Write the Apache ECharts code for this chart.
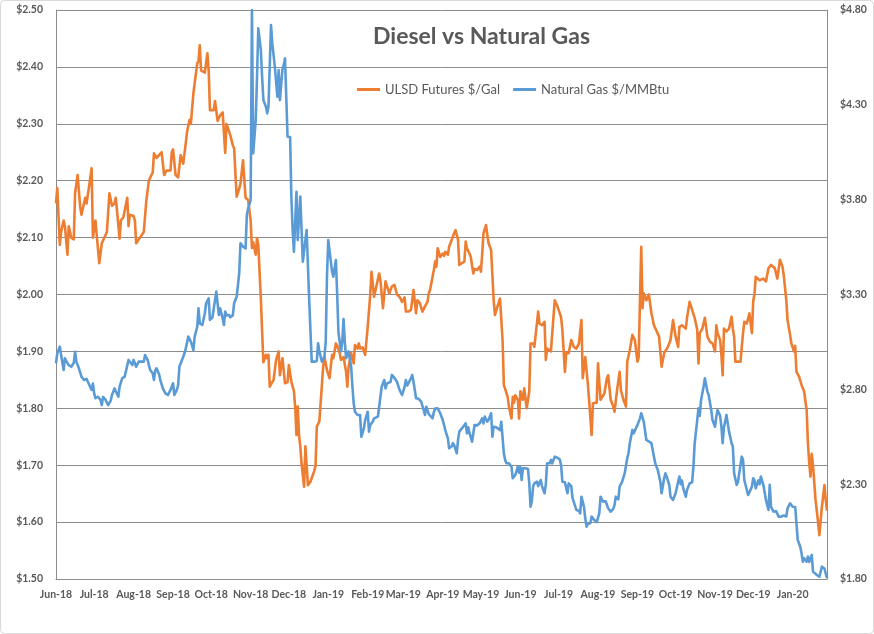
<!DOCTYPE html>
<html><head><meta charset="utf-8">
<script src="https://cdn.jsdelivr.net/npm/echarts@6/dist/echarts.min.js"></script>
<style>html,body{margin:0;padding:0;background:#fff}#c{width:874px;height:634px}</style>
</head><body><div id="c"></div>
<script>
const ulsdDates = [
'2018-06-01','2018-06-02','2018-06-04','2018-06-05','2018-06-07','2018-06-08','2018-06-10','2018-06-11','2018-06-13','2018-06-15','2018-06-16','2018-06-18','2018-06-20','2018-06-21','2018-06-24','2018-06-25','2018-06-27','2018-06-29','2018-06-30',
'2018-07-02','2018-07-05','2018-07-07','2018-07-09','2018-07-11','2018-07-13','2018-07-15','2018-07-17','2018-07-18','2018-07-21','2018-07-22','2018-07-24','2018-07-27','2018-07-28','2018-07-29',
'2018-08-01','2018-08-02','2018-08-03','2018-08-06','2018-08-09','2018-08-11','2018-08-13','2018-08-15','2018-08-16','2018-08-17','2018-08-19','2018-08-21','2018-08-23','2018-08-25','2018-08-27','2018-08-30','2018-08-31',
'2018-09-01','2018-09-03','2018-09-05','2018-09-07','2018-09-09','2018-09-11','2018-09-12','2018-09-14','2018-09-15','2018-09-17','2018-09-20','2018-09-21','2018-09-22','2018-09-23','2018-09-26','2018-09-28','2018-09-29','2018-09-30',
'2018-10-03','2018-10-04','2018-10-06','2018-10-08','2018-10-10','2018-10-12','2018-10-13','2018-10-16','2018-10-18','2018-10-19','2018-10-21','2018-10-23','2018-10-24','2018-10-26','2018-10-28','2018-10-30',
'2018-11-01','2018-11-02','2018-11-03','2018-11-05','2018-11-06','2018-11-07','2018-11-09','2018-11-10','2018-11-11','2018-11-13','2018-11-14','2018-11-15','2018-11-16','2018-11-19','2018-11-21','2018-11-23','2018-11-24','2018-11-26','2018-11-28','2018-11-30',
'2018-12-01','2018-12-03','2018-12-05','2018-12-06','2018-12-07','2018-12-08','2018-12-09','2018-12-10','2018-12-11','2018-12-13','2018-12-14','2018-12-15','2018-12-16','2018-12-18','2018-12-21','2018-12-22','2018-12-23','2018-12-25','2018-12-26','2018-12-28','2018-12-29','2018-12-31',
'2019-01-02','2019-01-04','2019-01-05','2019-01-07','2019-01-08','2019-01-10','2019-01-11','2019-01-13','2019-01-15','2019-01-16','2019-01-17','2019-01-19','2019-01-21','2019-01-22','2019-01-24','2019-01-25','2019-01-26','2019-01-28','2019-01-29','2019-01-30',
'2019-02-01','2019-02-03','2019-02-04','2019-02-06','2019-02-10','2019-02-11','2019-02-13','2019-02-15','2019-02-16','2019-02-18','2019-02-20','2019-02-22','2019-02-24','2019-02-26','2019-02-28',
'2019-03-02','2019-03-03','2019-03-05','2019-03-07','2019-03-09','2019-03-11','2019-03-12','2019-03-14','2019-03-16','2019-03-18','2019-03-20','2019-03-21','2019-03-22','2019-03-25','2019-03-26','2019-03-27','2019-03-28','2019-03-30',
'2019-04-01','2019-04-02','2019-04-03','2019-04-05','2019-04-06','2019-04-09','2019-04-10','2019-04-11','2019-04-13','2019-04-14','2019-04-16','2019-04-18','2019-04-19','2019-04-20','2019-04-22','2019-04-23','2019-04-25','2019-04-26','2019-04-28','2019-04-30',
'2019-05-01','2019-05-02','2019-05-03','2019-05-05','2019-05-06','2019-05-07','2019-05-09','2019-05-11','2019-05-12','2019-05-14','2019-05-16','2019-05-18','2019-05-19','2019-05-22','2019-05-23','2019-05-25','2019-05-26','2019-05-27','2019-05-28','2019-05-30','2019-05-31',
'2019-06-01','2019-06-03','2019-06-04','2019-06-06','2019-06-08','2019-06-09','2019-06-11','2019-06-12','2019-06-15','2019-06-16','2019-06-18','2019-06-20','2019-06-21','2019-06-22','2019-06-25','2019-06-26','2019-06-28','2019-06-30',
'2019-07-03','2019-07-04','2019-07-06','2019-07-07','2019-07-09','2019-07-11','2019-07-13','2019-07-15','2019-07-17','2019-07-19','2019-07-20','2019-07-22','2019-07-24','2019-07-25','2019-07-27','2019-07-28','2019-07-31',
'2019-08-01','2019-08-03','2019-08-06','2019-08-08','2019-08-09','2019-08-11','2019-08-13','2019-08-14','2019-08-16','2019-08-18','2019-08-19','2019-08-21','2019-08-23','2019-08-24','2019-08-26','2019-08-28','2019-08-30',
'2019-09-01','2019-09-02','2019-09-03','2019-09-04','2019-09-05','2019-09-06','2019-09-08','2019-09-10','2019-09-12','2019-09-14','2019-09-18','2019-09-19','2019-09-20','2019-09-22','2019-09-23','2019-09-25','2019-09-27','2019-09-29',
'2019-10-01','2019-10-03','2019-10-04','2019-10-06','2019-10-09','2019-10-10','2019-10-12','2019-10-14','2019-10-16','2019-10-18','2019-10-19','2019-10-20','2019-10-22','2019-10-24','2019-10-26','2019-10-28','2019-10-30',
'2019-11-01','2019-11-02','2019-11-03','2019-11-05','2019-11-06','2019-11-07','2019-11-08','2019-11-10','2019-11-12','2019-11-14','2019-11-15','2019-11-16','2019-11-17','2019-11-19','2019-11-21','2019-11-23','2019-11-24','2019-11-26','2019-11-28','2019-11-30',
'2019-12-01','2019-12-02','2019-12-03','2019-12-06','2019-12-09','2019-12-11','2019-12-13','2019-12-15','2019-12-18','2019-12-20','2019-12-21','2019-12-22','2019-12-24','2019-12-25','2019-12-26','2019-12-27','2019-12-28','2019-12-30','2019-12-31',
'2020-01-02','2020-01-03','2020-01-04','2020-01-06','2020-01-08','2020-01-10','2020-01-12','2020-01-13','2020-01-14','2020-01-15','2020-01-16','2020-01-17','2020-01-19','2020-01-21','2020-01-22','2020-01-23','2020-01-24','2020-01-26','2020-01-27','2020-01-28'
];
const ulsdPrices = [
2.16,2.187,2.087,2.11,2.13,2.12,2.07,2.12,2.10,2.097,2.178,2.21,2.154,2.14,2.17,2.16,2.19,2.222,2.10,
2.13,2.055,2.09,2.10,2.11,2.178,2.156,2.16,2.17,2.098,2.13,2.136,2.17,2.12,2.14,
2.138,2.13,2.09,2.10,2.11,2.165,2.20,2.21,2.214,2.248,2.24,2.245,2.25,2.21,2.218,2.218,2.25,
2.255,2.21,2.206,2.245,2.23,2.266,2.286,2.307,2.30,2.354,2.406,2.41,2.438,2.394,2.39,2.424,2.394,2.324,
2.324,2.34,2.305,2.315,2.32,2.249,2.30,2.28,2.262,2.257,2.172,2.186,2.195,2.236,2.17,2.166,
2.13,2.082,2.092,2.07,2.099,2.087,1.994,1.936,1.881,1.894,1.888,1.894,1.838,1.85,1.885,1.90,1.858,1.888,1.844,1.846,
1.876,1.847,1.83,1.803,1.753,1.803,1.753,1.733,1.703,1.662,1.733,1.70,1.665,1.671,1.69,1.70,1.768,1.777,1.78,1.873,1.89,1.867,
1.853,1.894,1.888,1.914,1.91,1.897,1.885,1.89,1.864,1.838,1.873,1.897,1.879,1.911,1.905,1.914,1.905,1.907,1.90,1.894,
1.943,2.00,2.04,1.996,2.037,2.025,1.976,2.023,2.025,2.002,2.014,2.017,2.00,1.996,1.987,
1.995,1.97,1.97,1.973,2.008,1.967,1.99,1.985,1.97,1.979,1.987,2.002,2.008,2.043,2.058,2.049,2.081,2.066,
2.072,2.068,2.075,2.07,2.084,2.102,2.108,2.113,2.096,2.052,2.055,2.058,2.093,2.081,2.072,2.066,2.037,2.045,2.043,2.049,
2.04,2.072,2.108,2.122,2.105,2.09,2.078,1.99,1.964,1.979,1.993,1.92,1.841,1.82,1.803,1.782,1.82,1.81,1.823,1.815,1.782,
1.83,1.815,1.835,1.80,1.83,1.914,1.914,1.908,1.97,1.949,1.946,1.952,1.885,1.905,1.90,1.897,1.99,1.98,
1.96,1.938,1.864,1.897,1.897,1.92,1.908,1.905,1.914,1.955,1.853,1.89,1.844,1.815,1.753,1.809,1.81,
1.879,1.815,1.826,1.853,1.858,1.815,1.803,1.794,1.832,1.864,1.832,1.815,1.803,1.882,1.902,1.929,1.92,
1.882,1.89,1.99,2.084,1.976,2.002,1.99,2.00,1.967,1.946,1.926,1.90,1.873,1.897,1.90,1.908,1.92,1.955,
1.926,1.908,1.943,1.946,1.94,1.959,1.987,1.973,1.959,1.938,1.879,1.932,1.94,1.959,1.926,1.917,1.914,
1.90,1.946,1.932,1.92,1.894,1.858,1.94,1.935,1.94,1.961,1.94,1.926,1.882,1.882,1.882,1.932,1.952,1.949,1.967,1.932,
1.988,2.001,2.031,2.025,2.028,2.023,2.046,2.052,2.046,2.028,2.025,2.061,2.049,2.034,2.031,1.99,1.955,1.929,1.914,
1.90,1.91,1.864,1.856,1.841,1.83,1.797,1.739,1.705,1.68,1.72,1.70,1.639,1.60,1.577,1.58,1.627,1.665,1.639,1.62
];
const gasDates = [
'2018-06-01','2018-06-02','2018-06-04','2018-06-05','2018-06-07','2018-06-08','2018-06-09','2018-06-11','2018-06-13','2018-06-15','2018-06-16','2018-06-17','2018-06-19','2018-06-21','2018-06-23','2018-06-25','2018-06-26','2018-06-29','2018-06-30',
'2018-07-01','2018-07-02','2018-07-04','2018-07-06','2018-07-07','2018-07-08','2018-07-10','2018-07-12','2018-07-14','2018-07-15','2018-07-17','2018-07-18','2018-07-20','2018-07-21','2018-07-23','2018-07-25','2018-07-26','2018-07-28','2018-07-29','2018-07-31',
'2018-08-01','2018-08-02','2018-08-03','2018-08-05','2018-08-07','2018-08-09','2018-08-10','2018-08-12','2018-08-14','2018-08-16','2018-08-17','2018-08-18','2018-08-19','2018-08-21','2018-08-22','2018-08-24','2018-08-26','2018-08-28','2018-08-30',
'2018-09-01','2018-09-02','2018-09-04','2018-09-05','2018-09-06','2018-09-07','2018-09-09','2018-09-10','2018-09-11','2018-09-13','2018-09-15','2018-09-16','2018-09-17','2018-09-18','2018-09-20','2018-09-21','2018-09-22','2018-09-24','2018-09-26','2018-09-27','2018-09-29','2018-09-30',
'2018-10-02','2018-10-03','2018-10-05','2018-10-07','2018-10-08','2018-10-10','2018-10-11','2018-10-12','2018-10-13','2018-10-15','2018-10-16','2018-10-18','2018-10-19','2018-10-21','2018-10-23','2018-10-24','2018-10-26','2018-10-28','2018-10-29','2018-10-30',
'2018-11-01','2018-11-02','2018-11-03','2018-11-05','2018-11-06','2018-11-07','2018-11-09','2018-11-10','2018-11-11','2018-11-13','2018-11-14','2018-11-15','2018-11-17','2018-11-18','2018-11-19','2018-11-20','2018-11-22','2018-11-23','2018-11-24','2018-11-26','2018-11-27','2018-11-28','2018-11-29','2018-11-30',
'2018-12-02','2018-12-03','2018-12-04','2018-12-05','2018-12-07','2018-12-08','2018-12-10','2018-12-12','2018-12-14','2018-12-15','2018-12-17','2018-12-19','2018-12-21','2018-12-23','2018-12-24','2018-12-25','2018-12-27','2018-12-29','2018-12-30','2018-12-31',
'2019-01-01','2019-01-02','2019-01-04','2019-01-05','2019-01-07','2019-01-08','2019-01-09','2019-01-11','2019-01-12','2019-01-13','2019-01-14','2019-01-15','2019-01-17','2019-01-19','2019-01-20','2019-01-21','2019-01-22','2019-01-24','2019-01-26','2019-01-27','2019-01-29','2019-01-30',
'2019-02-01','2019-02-02','2019-02-03','2019-02-05','2019-02-06','2019-02-09','2019-02-11','2019-02-12','2019-02-14','2019-02-15','2019-02-16','2019-02-19','2019-02-20','2019-02-22','2019-02-23','2019-02-24','2019-02-26','2019-02-28',
'2019-03-02','2019-03-03','2019-03-04','2019-03-05','2019-03-07','2019-03-08','2019-03-09','2019-03-11','2019-03-13','2019-03-15','2019-03-17','2019-03-18','2019-03-19','2019-03-21','2019-03-22','2019-03-24','2019-03-25','2019-03-26','2019-03-28','2019-03-30',
'2019-04-01','2019-04-02','2019-04-03','2019-04-05','2019-04-06','2019-04-08','2019-04-09','2019-04-10','2019-04-12','2019-04-13','2019-04-14','2019-04-16','2019-04-17','2019-04-19','2019-04-20','2019-04-21','2019-04-22','2019-04-24','2019-04-26','2019-04-28','2019-04-30',
'2019-05-02','2019-05-03','2019-05-04','2019-05-06','2019-05-07','2019-05-09','2019-05-10','2019-05-11','2019-05-13','2019-05-14','2019-05-16','2019-05-17','2019-05-19','2019-05-20','2019-05-21','2019-05-23','2019-05-25','2019-05-26','2019-05-27','2019-05-28','2019-05-30','2019-05-31',
'2019-06-01','2019-06-02','2019-06-03','2019-06-05','2019-06-07','2019-06-08','2019-06-09','2019-06-10','2019-06-11','2019-06-12','2019-06-14','2019-06-15','2019-06-17','2019-06-18','2019-06-20','2019-06-21','2019-06-22','2019-06-24','2019-06-25','2019-06-26','2019-06-28','2019-06-29','2019-06-30',
'2019-07-02','2019-07-03','2019-07-04','2019-07-06','2019-07-08','2019-07-09','2019-07-11','2019-07-12','2019-07-13','2019-07-15','2019-07-17','2019-07-18','2019-07-19','2019-07-21','2019-07-22','2019-07-23','2019-07-24','2019-07-26','2019-07-27','2019-07-29','2019-07-31',
'2019-08-02','2019-08-03','2019-08-05','2019-08-07','2019-08-08','2019-08-09','2019-08-11','2019-08-13','2019-08-14','2019-08-15','2019-08-17','2019-08-18','2019-08-19','2019-08-20','2019-08-22','2019-08-24','2019-08-25','2019-08-26','2019-08-28','2019-08-29','2019-08-30',
'2019-09-01','2019-09-03','2019-09-04','2019-09-06','2019-09-08','2019-09-10','2019-09-12','2019-09-14','2019-09-15','2019-09-17','2019-09-19','2019-09-20','2019-09-22','2019-09-23','2019-09-24','2019-09-26','2019-09-27','2019-09-29',
'2019-10-01','2019-10-03','2019-10-04','2019-10-05','2019-10-06','2019-10-07','2019-10-09','2019-10-10','2019-10-12','2019-10-14','2019-10-15','2019-10-16','2019-10-18','2019-10-19','2019-10-20','2019-10-21','2019-10-23','2019-10-24','2019-10-26','2019-10-27','2019-10-29','2019-10-30',
'2019-11-01','2019-11-02','2019-11-03','2019-11-05','2019-11-06','2019-11-07','2019-11-08','2019-11-10','2019-11-11','2019-11-12','2019-11-14','2019-11-15','2019-11-16','2019-11-18','2019-11-19','2019-11-20','2019-11-22','2019-11-23','2019-11-24','2019-11-26','2019-11-27','2019-11-28','2019-11-30',
'2019-12-01','2019-12-02','2019-12-03','2019-12-05','2019-12-06','2019-12-07','2019-12-09','2019-12-10','2019-12-11','2019-12-13','2019-12-14','2019-12-15','2019-12-17','2019-12-18','2019-12-19','2019-12-21','2019-12-22','2019-12-23','2019-12-25','2019-12-27','2019-12-28','2019-12-30','2019-12-31',
'2020-01-01','2020-01-03','2020-01-04','2020-01-05','2020-01-07','2020-01-08','2020-01-09','2020-01-10','2020-01-12','2020-01-13','2020-01-14','2020-01-16','2020-01-17','2020-01-18','2020-01-20','2020-01-21','2020-01-22','2020-01-24','2020-01-25','2020-01-26','2020-01-27','2020-01-28'
];
const gasPrices = [
2.937,2.99,3.025,2.981,2.902,2.964,2.95,2.928,2.919,2.94,2.998,2.946,2.911,2.867,2.849,2.855,2.84,2.797,2.83,
2.779,2.753,2.761,2.744,2.717,2.76,2.744,2.717,2.74,2.77,2.805,2.79,2.761,2.814,2.858,2.867,2.87,2.955,2.95,2.928,
2.955,2.95,2.919,2.946,2.946,2.946,2.981,2.955,2.902,2.885,2.849,2.90,2.911,2.88,2.849,2.805,2.779,2.77,2.797,
2.832,2.77,2.797,2.823,2.919,2.91,2.972,2.99,3.016,3.078,3.051,3.03,3.007,3.078,3.13,3.227,3.148,3.139,3.201,3.254,3.28,3.166,
3.18,3.227,3.315,3.192,3.227,3.174,3.139,3.21,3.19,3.192,3.18,3.19,3.254,3.288,3.412,3.57,3.552,3.543,3.719,3.754,
3.798,4.80,4.045,4.22,4.448,4.703,4.589,4.448,4.325,4.29,4.255,4.29,4.721,4.624,4.62,4.501,4.343,4.484,4.325,4.49,4.51,4.545,4.54,4.132,
4.13,3.816,3.64,3.526,3.842,3.587,3.816,3.473,3.587,3.64,3.271,2.946,2.946,2.95,3.043,3.00,2.946,2.972,3.051,3.40,
3.587,3.596,3.42,3.394,3.482,3.30,3.10,3.00,3.05,3.17,3.05,2.964,3.00,2.919,2.814,2.726,2.682,2.665,2.665,2.55,2.594,2.638,
2.682,2.577,2.612,2.63,2.647,2.656,2.761,2.814,2.849,2.805,2.83,2.84,2.876,2.86,2.865,2.84,2.797,2.77,
2.814,2.849,2.82,2.83,2.858,2.876,2.84,2.753,2.75,2.735,2.691,2.665,2.708,2.67,2.68,2.647,2.68,2.699,2.70,2.674,
2.638,2.612,2.585,2.541,2.489,2.50,2.516,2.505,2.463,2.533,2.577,2.594,2.594,2.621,2.568,2.60,2.57,2.524,2.612,2.61,2.621,
2.647,2.62,2.656,2.629,2.64,2.674,2.55,2.603,2.60,2.605,2.585,2.629,2.463,2.428,2.41,2.41,2.392,2.331,2.34,2.348,2.392,2.36,
2.39,2.322,2.384,2.384,2.38,2.304,2.181,2.21,2.287,2.304,2.313,2.29,2.322,2.29,2.252,2.30,2.41,2.41,2.428,2.41,2.445,2.454,2.44,
2.43,2.40,2.313,2.31,2.252,2.304,2.29,2.226,2.23,2.164,2.16,2.146,2.234,2.18,2.12,2.076,2.09,2.095,2.129,2.111,2.10,
2.146,2.234,2.208,2.21,2.217,2.173,2.155,2.17,2.19,2.234,2.22,2.287,2.29,2.313,2.357,2.437,2.463,2.516,2.586,2.568,2.57,
2.612,2.647,2.674,2.629,2.533,2.525,2.516,2.445,2.41,2.375,2.313,2.252,2.331,2.357,2.34,2.296,2.234,2.217,
2.252,2.313,2.34,2.30,2.32,2.278,2.234,2.27,2.304,2.31,2.392,2.516,2.638,2.70,2.66,2.744,2.814,2.858,2.788,2.77,2.691,2.638,
2.603,2.656,2.691,2.66,2.603,2.516,2.60,2.665,2.62,2.577,2.516,2.498,2.357,2.296,2.31,2.357,2.445,2.43,2.322,2.269,2.243,2.234,2.287,
2.331,2.32,2.278,2.32,2.30,2.34,2.296,2.29,2.217,2.164,2.296,2.181,2.155,2.16,2.158,2.129,2.125,2.129,2.135,2.13,2.173,2.199,2.19,
2.181,2.18,2.094,2.006,1.97,1.935,1.891,1.91,1.891,1.918,1.89,1.927,1.839,1.835,1.821,1.82,1.812,1.865,1.86,1.855,1.848,1.804
];
const monthTicks = ['2018-06-01','2018-07-01','2018-08-01','2018-09-01','2018-10-01','2018-11-01','2018-12-01',
'2019-01-01','2019-02-01','2019-03-01','2019-04-01','2019-05-01','2019-06-01','2019-07-01','2019-08-01','2019-09-01',
'2019-10-01','2019-11-01','2019-12-01','2020-01-01'];
const rightTicks = [1.80, 2.30, 2.80, 3.30, 3.80, 4.30, 4.80];
const monthNames = ['Jan','Feb','Mar','Apr','May','Jun','Jul','Aug','Sep','Oct','Nov','Dec'];

function ts(s){ const p = s.split('-'); return Date.UTC(+p[0], +p[1]-1, +p[2]); }

const FONT = 'Lato, "Open Sans", sans-serif';
const TXT = '#595959';
const GRID = '#8c8c8c';

const chart = echarts.init(document.getElementById('c'), null, {renderer: 'canvas'});
chart.setOption({
  animation: false,
  backgroundColor: '#fff',
  title: {
    text: 'Diesel vs Natural Gas',
    left: 368, top: 20,
    textStyle: {fontFamily: FONT, fontSize: 23, fontWeight: 'bold', color: TXT}
  },
  legend: {
    left: 352, top: 78,
    icon: 'rect', itemWidth: 23, itemHeight: 3, itemGap: 13,
    textStyle: {fontFamily: FONT, fontSize: 13, color: TXT},
    data: ['ULSD Futures $/Gal', 'Natural Gas $/MMBtu']
  },
  grid: {left: 56, right: 47, top: 10, bottom: 55, containLabel: false},
  xAxis: {
    type: 'value',
    min: ts('2018-06-01'), max: ts('2020-01-28'),
    axisLine: {show: true, lineStyle: {color: GRID, width: 1}},
    axisTick: {show: false},
    splitLine: {show: false},
    axisLabel: {
      customValues: monthTicks.map(ts),
      formatter: function (v) { const d = new Date(v); return monthNames[d.getUTCMonth()] + '-' + String(d.getUTCFullYear()).slice(2); },
      fontFamily: FONT, fontSize: 10.5, fontWeight: 'bold', color: TXT, margin: 10, hideOverlap: false
    }
  },
  yAxis: [{
    type: 'value', position: 'left', min: 1.5, max: 2.5, interval: 0.1,
    axisLine: {show: true, lineStyle: {color: GRID, width: 1}},
    axisTick: {show: false},
    splitLine: {show: true, lineStyle: {color: GRID, width: 1}},
    axisLabel: {formatter: v => '$' + v.toFixed(2), fontFamily: FONT, fontSize: 10.5, fontWeight: 'bold', color: TXT, margin: 13}
  }, {
    type: 'value', position: 'right', min: 1.8, max: 4.8,
    axisLine: {show: true, lineStyle: {color: GRID, width: 1}},
    axisTick: {show: false},
    splitLine: {show: false},
    axisLabel: {customValues: rightTicks, formatter: v => '$' + v.toFixed(2), fontFamily: FONT, fontSize: 10.5, fontWeight: 'bold', color: TXT, margin: 13}
  }],
  graphic: [{
    type: 'rect', silent: true, z: -1,
    shape: {x: 0.5, y: 0.5, width: 873, height: 633, r: 4},
    style: {fill: 'none', stroke: '#d9d9d9', lineWidth: 1}
  }],
  series: [{
    name: 'ULSD Futures $/Gal', type: 'line', yAxisIndex: 0,
    showSymbol: false, symbol: 'none',
    lineStyle: {color: '#ED7D31', width: 2.6, join: 'round'},
    itemStyle: {color: '#ED7D31'},
    data: ulsdDates.map((d, i) => [ts(d), ulsdPrices[i]])
  }, {
    name: 'Natural Gas $/MMBtu', type: 'line', yAxisIndex: 1,
    showSymbol: false, symbol: 'none',
    lineStyle: {color: '#5B9BD5', width: 2.6, join: 'round'},
    itemStyle: {color: '#5B9BD5'},
    data: gasDates.map((d, i) => [ts(d), gasPrices[i]])
  }]
});
</script>
</body></html>
